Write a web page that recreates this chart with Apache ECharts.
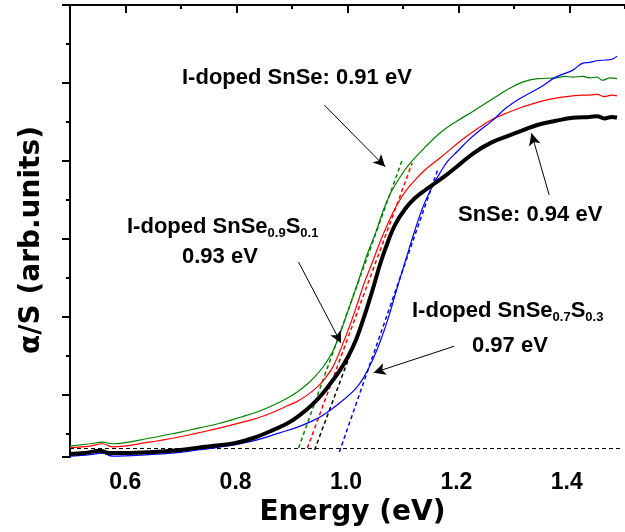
<!DOCTYPE html>
<html>
<head>
<meta charset="utf-8">
<title>alpha/S vs energy</title>
<script src="https://cdn.jsdelivr.net/npm/echarts@6/dist/echarts.min.js"></script>
<style>
  html, body { margin: 0; padding: 0; background: #fff; }
  #chart { width: 625px; height: 532px; }
</style>
</head>
<body>
<div id="chart"></div>
<script>
// 数据：能量 (eV) 与 α/S (任意单位，1 = 一个主刻度)
const snse = [[0.500,0.04],[0.527,0.05],[0.554,0.08],[0.571,0.05],[0.600,0.05],[0.643,0.06],[0.700,0.09],[0.732,0.12],[0.770,0.15],[0.800,0.18],[0.835,0.25],[0.863,0.33],[0.885,0.40],[0.905,0.48],[0.929,0.61],[0.947,0.73],[0.964,0.87],[0.988,1.10],[1.004,1.29],[1.018,1.50],[1.032,1.78],[1.048,2.14],[1.063,2.50],[1.077,2.78],[1.089,2.98],[1.107,3.18],[1.125,3.32],[1.143,3.42],[1.161,3.51],[1.179,3.60],[1.202,3.73],[1.232,3.90],[1.263,4.03],[1.295,4.12],[1.321,4.19],[1.348,4.26],[1.380,4.31],[1.411,4.35],[1.441,4.36],[1.455,4.37],[1.468,4.34],[1.482,4.36],[1.491,4.35]];
const iSnSe = [[0.500,0.14],[0.536,0.17],[0.559,0.19],[0.577,0.17],[0.643,0.24],[0.700,0.32],[0.732,0.37],[0.770,0.43],[0.809,0.51],[0.840,0.58],[0.870,0.67],[0.895,0.76],[0.911,0.83],[0.929,0.93],[0.945,1.04],[0.959,1.16],[0.975,1.34],[0.988,1.56],[1.004,1.88],[1.023,2.27],[1.038,2.59],[1.054,2.88],[1.068,3.17],[1.082,3.40],[1.098,3.59],[1.113,3.74],[1.143,3.97],[1.173,4.17],[1.202,4.31],[1.232,4.44],[1.263,4.58],[1.295,4.72],[1.321,4.81],[1.348,4.85],[1.380,4.86],[1.396,4.88],[1.411,4.87],[1.429,4.88],[1.441,4.86],[1.455,4.87],[1.464,4.83],[1.479,4.86],[1.491,4.85]];
const iSnSeS01 = [[0.500,0.12],[0.536,0.14],[0.559,0.17],[0.577,0.13],[0.643,0.19],[0.700,0.26],[0.732,0.31],[0.770,0.37],[0.809,0.44],[0.840,0.50],[0.870,0.58],[0.895,0.66],[0.911,0.71],[0.929,0.79],[0.945,0.88],[0.959,0.98],[0.975,1.14],[0.988,1.34],[1.004,1.63],[1.018,1.91],[1.032,2.21],[1.048,2.50],[1.063,2.78],[1.077,3.01],[1.089,3.19],[1.107,3.40],[1.125,3.55],[1.143,3.68],[1.173,3.85],[1.209,4.06],[1.232,4.18],[1.263,4.32],[1.295,4.42],[1.321,4.49],[1.348,4.55],[1.380,4.60],[1.411,4.63],[1.429,4.64],[1.441,4.64],[1.455,4.65],[1.468,4.62],[1.482,4.64],[1.491,4.63]];
const iSnSeS03 = [[0.500,0.01],[0.536,0.03],[0.559,0.05],[0.577,0.01],[0.643,0.03],[0.700,0.06],[0.732,0.09],[0.791,0.15],[0.839,0.22],[0.880,0.31],[0.911,0.38],[0.941,0.47],[0.959,0.54],[0.988,0.69],[1.018,0.88],[1.032,1.02],[1.048,1.24],[1.063,1.50],[1.077,1.79],[1.089,2.08],[1.107,2.50],[1.125,2.91],[1.139,3.20],[1.155,3.45],[1.170,3.64],[1.184,3.79],[1.202,3.92],[1.220,4.05],[1.241,4.18],[1.263,4.30],[1.291,4.48],[1.321,4.62],[1.352,4.74],[1.380,4.87],[1.411,4.96],[1.429,5.05],[1.441,5.06],[1.455,5.08],[1.470,5.09],[1.482,5.10],[1.491,5.14]];

// 切线 (外推带隙) 与基线
const fitISnSe = [[0.914,0.115],[1.102,3.81]];
const fitISnSeS01 = [[0.930,0.115],[1.120,3.77]];
const fitSnSe = [[0.943,0.09],[1.018,1.51]];
const fitISnSeS03 = [[0.988,0.064],[1.166,3.68]];
const baseline = [[0.5,0.109],[1.5,0.109]];

// 箭头 [起点, 终点]
const arrowISnSe = [[0.961,4.51],[1.071,3.72]];
const arrowS01 = [[0.914,2.50],[0.991,1.46]];
const arrowSnSe = [[1.368,3.36],[1.336,4.15]];
const arrowS03 = [[1.196,1.42],[1.050,1.08]];

const xTicks = ['0.6', '0.8', '1.0', '1.2', '1.4'];

const chart = echarts.init(document.getElementById('chart'));

const gridBox = { left: 70, top: 5, width: 560, height: 452 };
const tickStyle = { color: '#000', width: 2 };

function curve(name, data, color, width) {
    return {
        name: name, type: 'line', data: data, xAxisIndex: 0, yAxisIndex: 0,
        symbol: 'none', smooth: 0.4, animation: false,
        lineStyle: { color: color, width: width }
    };
}

function fit(data, color) {
    return {
        type: 'line', data: data, xAxisIndex: 0, yAxisIndex: 0,
        symbol: 'none', animation: false,
        lineStyle: { color: color, width: 1.5, type: [4, 3] }
    };
}

function arrow(a) {
    return [{ coord: a[0] }, { coord: a[1] }];
}

// 刻度轴：只负责边框和刻度
function tickX(pos) {
    return {
        gridIndex: 1, type: 'value', position: pos, min: 0, max: 10, interval: 2,
        axisLine: { show: true, lineStyle: tickStyle },
        axisTick: { show: true, inside: pos === 'top', length: 4, lineStyle: tickStyle },
        minorTick: { show: true, splitNumber: 2, length: 8, lineStyle: tickStyle },
        axisLabel: { show: false }, splitLine: { show: false }
    };
}

function tickY(pos) {
    return {
        gridIndex: 1, type: 'value', position: pos, inverse: true, min: 0, max: 5.795, interval: 1,
        axisLine: { show: true, lineStyle: tickStyle },
        axisTick: { show: true, inside: pos === 'right', length: 8, lineStyle: tickStyle },
        minorTick: { show: true, splitNumber: 2, length: 4, lineStyle: tickStyle },
        axisLabel: { show: false }, splitLine: { show: false }
    };
}

const mainFont = { fontFamily: 'Liberation Sans', fontWeight: 'bold', fontSize: 22, fill: '#000' };
const richSub = {
    a: { fontFamily: 'Liberation Sans', fontWeight: 'bold', fontSize: 22, lineHeight: 22, verticalAlign: 'bottom', padding: [0, 0, 2, 0], color: '#000' },
    s: { fontFamily: 'Liberation Sans', fontWeight: 'bold', fontSize: 13, lineHeight: 13, verticalAlign: 'bottom', color: '#000' }
};

const option = {
    backgroundColor: '#fff',
    animation: false,
    grid: [
        Object.assign({}, gridBox),
        Object.assign({}, gridBox)
    ],
    xAxis: [
        {
            gridIndex: 0, type: 'value', min: 0.5, max: 1.5, interval: 0.1,
            axisLine: { show: false }, axisTick: { show: false }, splitLine: { show: false },
            axisLabel: {
                margin: 14, color: '#000', fontFamily: 'Liberation Sans', fontWeight: 'bold', fontSize: 23,
                formatter: function (v) {
                    const s = v.toFixed(1);
                    return xTicks.indexOf(s) >= 0 ? s : '';
                }
            },
            name: 'Energy (eV)', nameLocation: 'middle', nameGap: 36,
            nameTextStyle: { color: '#000', fontFamily: 'DejaVu Sans', fontWeight: 'bold', fontSize: 28, padding: [0, 0, 0, 13] }
        },
        tickX('bottom'),
        tickX('top')
    ],
    yAxis: [
        { gridIndex: 0, type: 'value', min: 0, max: 5.795, show: false },
        Object.assign(tickY('left'), {
            name: 'α/S (arb.units)', nameLocation: 'middle', nameGap: 24,
            nameTextStyle: { color: '#000', fontFamily: 'DejaVu Sans', fontWeight: 'bold', fontSize: 28, padding: [0, 18, 0, 0] }
        }),
        tickY('right')
    ],
    series: [
        {
            type: 'line', data: baseline, xAxisIndex: 0, yAxisIndex: 0, symbol: 'none',
            lineStyle: { color: '#000', width: 1, type: [4, 3] },
            markLine: {
                silent: true, symbol: ['none', 'arrow'], symbolSize: [9, 12],
                label: { show: false },
                lineStyle: { color: '#000', width: 1, type: 'solid' },
                data: [arrow(arrowISnSe), arrow(arrowS01), arrow(arrowSnSe), arrow(arrowS03)]
            }
        },
        fit(fitISnSe, '#008000'),
        fit(fitISnSeS01, '#ff0000'),
        fit(fitSnSe, '#000000'),
        fit(fitISnSeS03, '#0000ff'),
        curve('I-doped SnSe', iSnSe, '#008000', 1.2),
        curve('I-doped SnSe0.9S0.1', iSnSeS01, '#ff0000', 1.2),
        curve('I-doped SnSe0.7S0.3', iSnSeS03, '#0000ff', 1.2),
        curve('SnSe', snse, '#000000', 4)
    ],
    graphic: [
        { type: 'text', x: 182, y: 77.5, style: Object.assign({ text: 'I-doped SnSe: 0.91 eV', verticalAlign: 'middle' }, mainFont) },
        { type: 'text', x: 127, y: 228.5, style: { text: '{a|I-doped SnSe}{s|0.9}{a|S}{s|0.1}', rich: richSub, verticalAlign: 'middle' } },
        { type: 'text', x: 182, y: 256.5, style: Object.assign({ text: '0.93 eV', verticalAlign: 'middle' }, mainFont) },
        { type: 'text', x: 458, y: 214.5, style: Object.assign({ text: 'SnSe: 0.94 eV', verticalAlign: 'middle' }, mainFont) },
        { type: 'text', x: 412, y: 313, style: { text: '{a|I-doped SnSe}{s|0.7}{a|S}{s|0.3}', rich: richSub, verticalAlign: 'middle' } },
        { type: 'text', x: 472, y: 346, style: Object.assign({ text: '0.97 eV', verticalAlign: 'middle' }, mainFont) }
    ]
};

chart.setOption(option);
</script>
</body>
</html>
